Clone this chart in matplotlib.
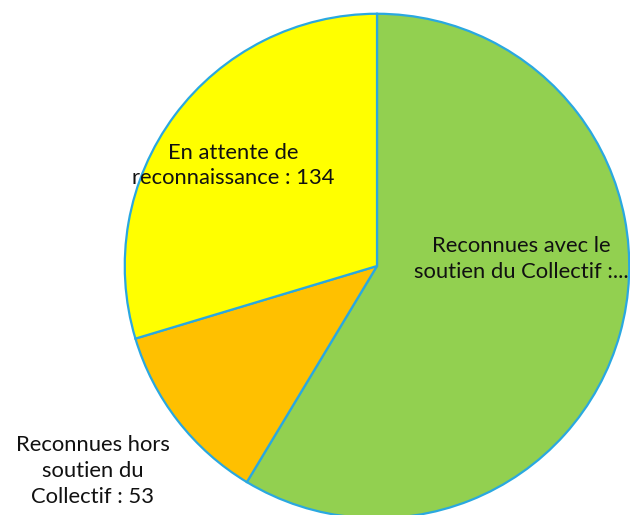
import matplotlib.pyplot as plt

categories = ["Reconnues avec le\nsoutien du Collectif :...",
              "Reconnues hors\nsoutien du\nCollectif : 53",
              "En attente de\nreconnaissance : 134"]
valeurs = [265, 53, 134]
couleurs = ["#92D050", "#FFC000", "#FFFF00"]
# position des etiquettes (coordonnees du camembert, rayon 1)
pos_labels = [(0.573, 0.027), (-1.126, -0.812), (-0.569, 0.398)]

plt.rcParams['font.family'] = ['Lato', 'DejaVu Sans']

fig = plt.figure(figsize=(6.3, 5.15), dpi=100)
ax = fig.add_axes([124/630, -4/515, 506/630, 506/515])

ax.pie(valeurs, colors=couleurs, startangle=90, counterclock=False,
       radius=1, wedgeprops=dict(edgecolor="#2AA8E0", linewidth=1.6))

for texte, (x, y) in zip(categories, pos_labels):
    ax.text(x, y, texte, ha="center", va="center", fontsize=15.8,
            linespacing=1.36, color="#111111", clip_on=False)

ax.set_xlim(-1.003, 1.003)
ax.set_ylim(-1.003, 1.003)

plt.savefig("out.png", dpi=100)
